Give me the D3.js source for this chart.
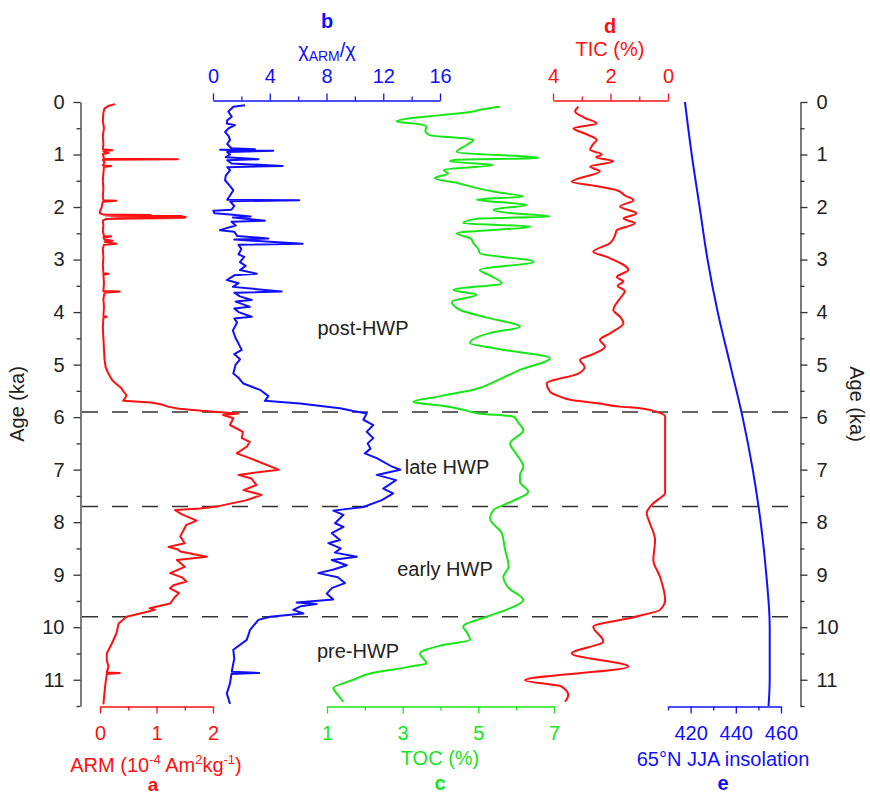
<!DOCTYPE html>
<html>
<head>
<meta charset="utf-8">
<script src="https://cdn.jsdelivr.net/npm/d3@7"></script>
<style>
  html, body { margin: 0; padding: 0; background: #fff; }
  svg { display: block; font-family: "Liberation Sans", Arial, sans-serif; }
</style>
</head>
<body>
<svg id="chart" width="870" height="796"></svg>
<script>
// Data: [age (ka), value]
const ageTicks = [0, 1, 2, 3, 4, 5, 6, 7, 8, 9, 10, 11];
const boundaries = [5.9, 7.7, 9.8];
const periods = [
  { label: "post-HWP", age: 4.3, x: 363 },
  { label: "late HWP", age: 6.95, x: 447 },
  { label: "early HWP", age: 8.9, x: 445 },
  { label: "pre-HWP", age: 10.45, x: 358 }
];

const armData = [[0.04,0.27],[0.07,0.16],[0.12,0.08],[0.2,0.06],[0.35,0.05],[0.5,0.07],[0.65,0.05],[0.8,0.06],[0.9,0.05],[0.92,0.22],[0.94,0.06],[0.97,0.15],[0.99,0.05],[1.08,0.07],[1.09,1.38],[1.10,0.05],[1.15,0.08],[1.21,0.05],[1.22,0.2],[1.24,0.07],[1.35,0.06],[1.5,0.05],[1.65,0.06],[1.8,0.05],[1.87,0.06],[1.88,0.29],[1.9,0.05],[2.0,0.03],[2.08,0.0],[2.12,0.0],[2.14,0.05],[2.15,0.9],[2.16,0.1],[2.17,1.45],[2.18,0.2],[2.19,1.52],[2.20,0.3],[2.21,1.5],[2.22,0.6],[2.23,0.1],[2.26,0.05],[2.35,0.06],[2.45,0.05],[2.55,0.07],[2.56,0.2],[2.58,0.06],[2.62,0.08],[2.64,0.22],[2.66,0.08],[2.70,0.29],[2.72,0.07],[2.8,0.05],[2.95,0.06],[3.1,0.05],[3.26,0.06],[3.27,0.15],[3.29,0.06],[3.45,0.07],[3.6,0.06],[3.61,0.35],[3.63,0.08],[3.75,0.06],[3.9,0.07],[4.08,0.06],[4.09,0.12],[4.11,0.06],[4.3,0.05],[4.5,0.06],[4.7,0.07],[4.9,0.08],[5.05,0.1],[5.15,0.14],[5.23,0.18],[5.3,0.22],[5.38,0.3],[5.45,0.38],[5.52,0.42],[5.58,0.47],[5.63,0.45],[5.69,0.41],[5.72,0.9],[5.75,1.05],[5.77,1.12],[5.80,1.2],[5.84,1.4],[5.88,1.8],[5.91,2.2],[5.93,2.45],[5.96,2.18],[6.02,2.36],[6.15,2.3],[6.28,2.53],[6.4,2.51],[6.47,2.65],[6.56,2.6],[6.69,2.42],[6.78,2.65],[7.0,3.16],[7.1,2.45],[7.17,2.68],[7.29,2.77],[7.39,2.54],[7.48,2.86],[7.58,2.6],[7.69,2.12],[7.74,1.77],[7.77,1.33],[7.85,1.45],[7.97,1.71],[8.05,1.53],[8.15,1.48],[8.27,1.42],[8.4,1.5],[8.47,1.21],[8.52,1.38],[8.56,1.42],[8.66,1.89],[8.72,1.36],[8.85,1.5],[8.97,1.24],[9.05,1.45],[9.13,1.53],[9.2,1.3],[9.26,1.24],[9.35,1.4],[9.42,1.33],[9.55,1.24],[9.64,0.88],[9.67,0.97],[9.74,0.71],[9.8,0.47],[9.93,0.33],[10.12,0.29],[10.31,0.21],[10.5,0.12],[10.63,0.12],[10.75,0.15],[10.86,0.12],[10.87,0.35],[10.89,0.12],[11.13,0.09],[11.47,0.06]];

const chiData = [[0.06,2.25],[0.09,1.43],[0.18,1.08],[0.28,1.32],[0.35,1.0],[0.41,0.97],[0.44,1.55],[0.5,1.1],[0.57,0.85],[0.65,1.1],[0.72,1.2],[0.8,1.0],[0.88,1.3],[0.9,2.96],[0.91,0.5],[0.93,4.25],[0.95,1.0],[1.0,1.2],[1.05,0.9],[1.09,3.2],[1.11,1.0],[1.17,1.3],[1.22,4.91],[1.24,1.0],[1.3,1.2],[1.4,0.9],[1.49,0.85],[1.6,1.2],[1.68,1.43],[1.78,1.2],[1.86,1.0],[1.87,6.08],[1.89,1.2],[1.98,1.5],[2.05,1.3],[2.07,0.02],[2.12,0.1],[2.14,1.2],[2.18,2.66],[2.2,1.4],[2.26,3.66],[2.28,1.3],[2.35,1.6],[2.44,0.49],[2.47,1.5],[2.55,1.7],[2.6,3.9],[2.62,1.5],[2.7,6.32],[2.72,1.8],[2.8,2.0],[2.9,1.8],[2.95,2.2],[3.05,1.9],[3.12,2.3],[3.2,1.9],[3.27,3.08],[3.3,1.5],[3.39,0.97],[3.45,1.8],[3.52,1.4],[3.61,4.84],[3.63,1.5],[3.7,1.9],[3.77,2.73],[3.8,1.6],[3.9,2.6],[3.93,1.5],[4.0,1.8],[4.09,2.73],[4.12,1.5],[4.2,1.7],[4.35,1.4],[4.5,1.6],[4.6,1.8],[4.72,2.02],[4.8,1.5],[4.9,1.9],[5.0,1.6],[5.17,1.43],[5.25,1.8],[5.36,2.14],[5.48,3.31],[5.6,3.9],[5.69,3.66],[5.74,6.13],[5.78,7.3],[5.83,8.95],[5.88,9.8],[5.93,10.83],[6.05,10.6],[6.15,11.3],[6.28,10.83],[6.4,11.3],[6.5,10.9],[6.6,11.1],[6.69,10.7],[6.78,11.54],[6.94,12.6],[7.0,13.2],[7.1,11.54],[7.2,12.9],[7.36,12.0],[7.45,12.7],[7.58,11.9],[7.71,10.6],[7.78,8.48],[7.86,9.2],[8.02,8.6],[8.09,9.2],[8.21,8.37],[8.34,8.95],[8.4,8.13],[8.5,9.0],[8.58,8.6],[8.66,10.13],[8.72,8.37],[8.82,9.43],[8.9,8.5],[8.97,7.42],[9.05,8.8],[9.16,9.3],[9.25,8.4],[9.36,8.01],[9.47,8.48],[9.53,5.9],[9.56,7.3],[9.6,6.2],[9.67,5.66],[9.74,6.37],[9.8,4.02],[9.86,3.2],[10.05,2.61],[10.24,2.38],[10.43,1.43],[10.6,1.5],[10.69,1.43],[10.85,1.32],[10.87,3.26],[10.89,1.3],[11.07,1.2],[11.26,0.97],[11.46,1.2]];

const tocData = [[0.09,5.57],[0.14,5.1],[0.18,4.87],[0.25,4.0],[0.3,3.3],[0.37,2.84],[0.42,3.4],[0.47,3.63],[0.55,3.6],[0.63,3.72],[0.72,4.87],[0.82,4.69],[0.95,4.43],[1.07,6.59],[1.1,4.4],[1.13,4.25],[1.2,5.4],[1.29,4.08],[1.36,4.2],[1.45,3.85],[1.55,4.5],[1.64,4.96],[1.72,5.5],[1.8,6.19],[1.86,4.96],[1.96,6.28],[2.05,5.4],[2.12,5.9],[2.18,6.89],[2.22,5.0],[2.31,4.6],[2.37,6.37],[2.5,4.43],[2.6,4.8],[2.69,4.87],[2.8,5.0],[2.88,5.04],[3.04,6.46],[3.2,5.04],[3.3,5.3],[3.45,5.62],[3.58,4.34],[3.67,4.96],[3.8,4.3],[3.96,4.52],[4.1,5.2],[4.28,6.1],[4.4,5.3],[4.59,4.78],[4.7,5.5],[4.88,6.89],[5.1,6.1],[5.3,5.5],[5.48,4.87],[5.6,4.0],[5.71,3.28],[5.78,4.0],[5.86,4.6],[5.93,5.0],[5.99,5.93],[6.1,6.05],[6.25,6.19],[6.5,5.84],[6.7,6.0],[6.94,6.19],[7.1,6.1],[7.23,6.1],[7.42,6.32],[7.6,5.9],[7.77,5.4],[7.93,5.31],[8.21,5.62],[8.5,5.7],[8.85,5.8],[9.04,5.66],[9.25,5.8],[9.48,6.19],[9.65,5.8],[9.8,5.22],[9.99,4.6],[10.1,4.7],[10.24,4.78],[10.35,4.0],[10.5,3.46],[10.69,3.63],[10.75,3.2],[10.88,2.14],[11.0,1.7],[11.16,1.17],[11.3,1.3],[11.42,1.43]];

const ticData = [[0.09,3.12],[0.18,3.23],[0.3,2.9],[0.41,2.48],[0.5,3.29],[0.6,2.9],[0.72,2.48],[0.8,2.6],[0.91,2.71],[1.0,2.3],[1.05,2.5],[1.13,1.9],[1.23,2.71],[1.32,2.37],[1.52,3.35],[1.6,2.5],[1.68,1.78],[1.78,1.5],[1.87,1.2],[1.99,1.67],[2.12,1.09],[2.22,1.55],[2.31,1.15],[2.44,1.78],[2.55,1.85],[2.69,2.02],[2.85,2.6],[2.95,2.13],[3.2,1.38],[3.33,1.78],[3.42,1.55],[3.5,1.75],[3.6,1.5],[3.7,1.61],[3.8,1.75],[3.96,1.9],[4.1,1.65],[4.21,1.55],[4.4,2.0],[4.53,2.37],[4.66,2.19],[4.8,2.6],[4.91,3.06],[5.05,2.9],[5.17,3.12],[5.36,4.22],[5.52,4.1],[5.61,3.76],[5.67,3.4],[5.74,2.37],[5.8,1.67],[5.83,0.97],[5.91,0.34],[5.99,0.1],[7.45,0.1],[7.55,0.3],[7.64,0.51],[7.83,0.74],[8.02,0.63],[8.34,0.45],[8.72,0.51],[9.04,0.28],[9.48,0.1],[9.67,0.28],[9.81,1.2],[9.99,2.6],[10.27,2.25],[10.5,3.35],[10.75,1.38],[11.01,4.97],[11.13,3.7],[11.29,3.47],[11.42,3.58]];

const insolationData = [[0,417.5],[1,420.5],[2,424],[3,427.5],[4,432],[5,437.5],[6,443],[7,447.5],[8,451],[9,453.5],[10,455],[11,455],[11.5,454.5]];

const RED = "#ff1010", BLUE = "#1010ff", GREEN = "#19e619", GREY = "#333";

const svg = d3.select("#chart");
const y = d3.scaleLinear().domain([0, 11.5]).range([102, 706]);

const xArm = d3.scaleLinear().domain([0, 2]).range([100, 213]);
const xChi = d3.scaleLinear().domain([0, 16]).range([213, 440]);
const xToc = d3.scaleLinear().domain([1, 7]).range([327, 554]);
const xTic = d3.scaleLinear().domain([4, 0]).range([553, 668]);
const xIns = d3.scaleLinear().domain([410, 460]).range([668, 781]);

function styleAxis(g, color) {
  g.selectAll("path, line").attr("stroke", color).attr("stroke-width", 1.3);
  g.selectAll("text").attr("fill", color).attr("font-size", 20)
    .attr("font-family", "Liberation Sans, Arial, sans-serif");
}

function drawAxis(axisFn, scale, major, minor, transform, color, pad) {
  const g = svg.append("g").attr("transform", transform);
  g.call(axisFn(scale).tickValues(major).tickFormat(d3.format("d"))
    .tickSize(7).tickSizeOuter(0).tickPadding(pad));
  g.append("g").call(axisFn(scale).tickValues(minor).tickSize(4).tickFormat(""))
    .select(".domain").remove();
  styleAxis(g, color);
  return g;
}

// age axes
const minorAges = d3.range(0.5, 11.6, 1);
drawAxis(d3.axisLeft, y, ageTicks, minorAges, "translate(80.5,0)", GREY, 9)
  .selectAll("text").attr("fill", "#222");
drawAxis(d3.axisRight, y, ageTicks, minorAges, "translate(800.5,0)", GREY, 9)
  .selectAll("text").attr("fill", "#222");

svg.append("text").attr("transform", "translate(24,404) rotate(-90)")
  .attr("text-anchor", "middle").attr("font-size", 20).attr("fill", "#222").text("Age (ka)");
svg.append("text").attr("transform", "translate(850,404) rotate(90)")
  .attr("text-anchor", "middle").attr("font-size", 20).attr("fill", "#222").text("Age (ka)");

// panel axes
drawAxis(d3.axisBottom, xArm, [0, 1, 2], [0.5, 1.5], "translate(0,706.5)", RED, 12);
drawAxis(d3.axisTop, xChi, [0, 4, 8, 12, 16], [2, 6, 10, 14], "translate(0,100.5)", BLUE, 11);
drawAxis(d3.axisBottom, xToc, [1, 3, 5, 7], [2, 4, 6], "translate(0,706.5)", GREEN, 12);
drawAxis(d3.axisTop, xTic, [4, 2, 0], [3, 1], "translate(0,100.5)", RED, 11);
drawAxis(d3.axisBottom, xIns, [420, 440, 460], [410, 430, 450], "translate(0,706.5)", BLUE, 12);

// boundaries
svg.append("g").selectAll("line").data(boundaries).join("line")
  .attr("x1", 82).attr("x2", 800)
  .attr("y1", d => y(d)).attr("y2", d => y(d))
  .attr("stroke", GREY).attr("stroke-width", 1.5).attr("stroke-dasharray", "16,14");

// curves
function curve(data, xs, color, c) {
  svg.append("path").datum(data)
    .attr("fill", "none").attr("stroke", color).attr("stroke-width", 2)
    .attr("stroke-linejoin", "round")
    .attr("d", d3.line().x(d => xs(d[1])).y(d => y(d[0])).curve(c));
}
curve(armData, xArm, RED, d3.curveLinear);
curve(chiData, xChi, BLUE, d3.curveLinear);
curve(tocData, xToc, GREEN, d3.curveMonotoneY);
curve(ticData, xTic, RED, d3.curveMonotoneY);
curve(insolationData, xIns, BLUE, d3.curveMonotoneY);

// period labels
svg.append("g").selectAll("text").data(periods).join("text")
  .attr("x", d => d.x).attr("y", d => y(d.age))
  .attr("dy", "0.35em").attr("text-anchor", "middle")
  .attr("font-size", 20).attr("fill", "#222").text(d => d.label);

// titles
function title(x, yy, color, bold, txt) {
  return svg.append("text").attr("x", x).attr("y", yy).attr("text-anchor", "middle")
    .attr("font-size", 20).attr("font-weight", bold ? "bold" : null)
    .attr("fill", color).text(txt);
}
title(327, 28, BLUE, true, "b");
const chiT = title(327, 57, BLUE, false, "χ");
chiT.append("tspan").attr("font-size", 14).attr("dy", 4).text("ARM");
chiT.append("tspan").attr("dy", -4).text("/χ");

title(610, 33, RED, true, "d");
title(610, 56, RED, false, "TIC (%)");

const armT = title(156, 772, RED, false, "ARM (10");
armT.append("tspan").attr("font-size", 13).attr("dy", -8).text("-4");
armT.append("tspan").attr("dy", 8).text(" Am");
armT.append("tspan").attr("font-size", 13).attr("dy", -8).text("2");
armT.append("tspan").attr("dy", 8).text("kg");
armT.append("tspan").attr("font-size", 13).attr("dy", -8).text("-1");
armT.append("tspan").attr("dy", 8).text(")");
title(153, 791, RED, true, "a").attr("font-size", 19);

title(440, 765, GREEN, false, "TOC (%)");
title(440, 790, GREEN, true, "c");

title(723, 766, BLUE, false, "65°N JJA insolation");
title(723, 790, BLUE, true, "e");
</script>
</body>
</html>
